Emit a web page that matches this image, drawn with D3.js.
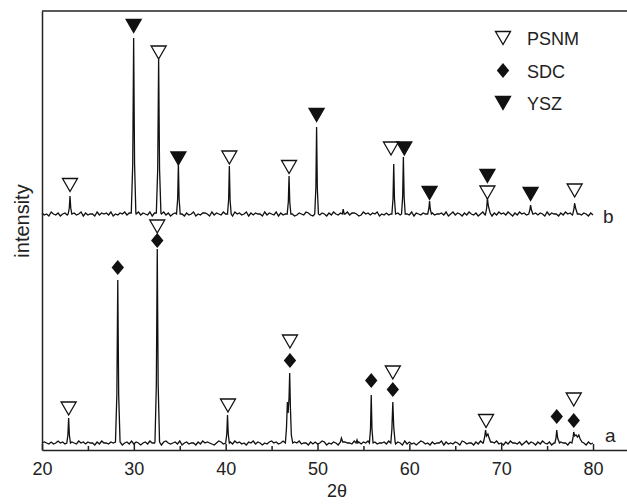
<!DOCTYPE html>
<html>
<head>
<meta charset="utf-8">
<script src="https://cdn.jsdelivr.net/npm/d3@7"></script>
<style>
  body { margin: 0; background: #fff; }
  svg text { font-family: "Liberation Sans", Arial, sans-serif; fill: #222; }
</style>
</head>
<body>
<svg id="xrd" width="627" height="504"></svg>
<script>
// 2theta axis ticks
var majorTicks = [20, 30, 40, 50, 60, 70, 80];
var minorTicks = [25, 35, 45, 55, 65, 75];

// baseline noise, one digit per 0.25 deg step from 20 to 80 (a.u.)
var noiseA = "2321312423120321423132203142213241302314" +
             "1320231422130342123140231220314232102431" +
             "2031423120324132021342312403213241220313" +
             "1243021320413221403132420312231402132041" +
             "3120243120312240312132043122031420313241" +
             "2031422130241320314213024132203142132031" + "2";
var noiseB = "3120421302314231240312204132314021324132" +
             "0241321403122413023142031240213320413214" +
             "2130423124031322041321403123420132143102" +
             "4132031421302413320142313240213120431322" +
             "1403213240312231402413203142130241320314" +
             "2314203142310423132041322031423140213203" + "1";

// peak profiles [2theta, intensity]
var peaksA = [
  [[22.7,2],[22.82,10],[22.9,27],[22.98,10],[23.1,2]],
  [[28.0,3],[28.15,50],[28.25,165],[28.35,50],[28.5,3]],
  [[32.3,3],[32.45,60],[32.55,196],[32.65,60],[32.8,3]],
  [[40.0,2],[40.12,11],[40.2,30],[40.28,11],[40.4,2]],
  [[46.5,2],[46.62,17],[46.72,43],[46.8,32],[46.9,47],[46.97,72],[47.05,37],[47.15,10],[47.3,2]],
  [[52.5,3],[52.6,7],[52.75,3]],
  [[54.2,2],[54.3,5],[54.4,2]],
  [[55.65,2],[55.77,16],[55.85,50],[55.93,16],[56.05,2]],
  [[57.98,2],[58.1,16],[58.2,43],[58.3,18],[58.45,3]],
  [[68.05,2],[68.2,8],[68.3,15],[68.4,9],[68.55,11],[68.65,8],[68.85,3]],
  [[75.85,2],[75.97,7],[76.05,15],[76.15,7],[76.35,2]],
  [[77.7,2],[77.82,7],[77.9,13],[78.0,9],[78.15,10],[78.3,8],[78.45,10],[78.6,6],[78.8,3]]
];
var peaksB = [
  [[22.85,2],[22.97,8],[23.05,20],[23.13,8],[23.25,2]],
  [[29.72,3],[29.88,52],[29.98,178],[30.08,52],[30.22,3]],
  [[32.45,3],[32.6,47],[32.7,157],[32.8,47],[32.95,3]],
  [[34.65,2],[34.77,17],[34.85,52],[34.93,17],[35.05,2]],
  [[40.2,2],[40.32,16],[40.4,50],[40.48,16],[40.6,2]],
  [[46.7,2],[46.82,14],[46.9,40],[46.98,14],[47.1,2]],
  [[49.7,2],[49.82,28],[49.9,89],[49.98,28],[50.1,2]],
  [[52.7,2],[52.8,7],[52.9,2]],
  [[58.1,2],[58.22,17],[58.3,52],[58.38,17],[58.5,2]],
  [[59.15,2],[59.27,19],[59.35,59],[59.43,19],[59.55,2]],
  [[62.0,2],[62.12,7],[62.2,15],[62.28,7],[62.4,2]],
  [[68.3,2],[68.42,8],[68.5,18],[68.6,10],[68.8,3]],
  [[73.0,2],[73.12,6],[73.2,11],[73.3,6],[73.45,2]],
  [[77.8,2],[77.92,7],[78.0,13],[78.1,8],[78.3,2]]
];

// vertical offsets of the two patterns (a.u.)
var offsetA = 5, offsetB = 234;

// phase markers: [phase, 2theta, level above baseline]
var markersA = [
  ["PSNM", 22.9, 34.5], ["SDC", 28.25, 175.5], ["PSNM", 32.55, 216.5], ["SDC", 32.55, 202.5],
  ["PSNM", 40.25, 37.5], ["PSNM", 47.0, 101.5], ["SDC", 47.0, 82.5], ["SDC", 55.85, 62.5],
  ["PSNM", 58.2, 70.5], ["SDC", 58.2, 53.5], ["PSNM", 68.35, 22], ["SDC", 76.05, 26.5],
  ["PSNM", 77.9, 43.5], ["SDC", 77.9, 22.5]
];
var markersB = [
  ["PSNM", 23.05, 29], ["YSZ", 29.98, 188], ["PSNM", 32.7, 161.5], ["YSZ", 34.85, 55.5],
  ["PSNM", 40.4, 56.5], ["PSNM", 46.9, 47], ["YSZ", 49.9, 99], ["PSNM", 58.0, 65.5],
  ["YSZ", 59.45, 65.5], ["YSZ", 62.2, 21], ["YSZ", 68.5, 38], ["PSNM", 68.5, 21.5],
  ["YSZ", 73.2, 20], ["PSNM", 78.0, 23.5]
];
var legendItems = ["PSNM", "SDC", "YSZ"];

var svg = d3.select("#xrd");
var margin = {left: 42, top: 11, right: 0, bottom: 54};
var width = 627, height = 504;

var x = d3.scaleLinear().domain([20, 83.7]).range([margin.left, width - margin.right]);
var y = d3.scaleLinear().domain([0, 439]).range([height - margin.bottom, margin.top]);

function buildTrace(noise, peaks) {
  var pts = [];
  for (var i = 0; i < noise.length; i++) {
    var t = 20 + i * 0.25;
    var inPeak = peaks.some(function(p) { return t >= p[0][0] && t <= p[p.length - 1][0]; });
    if (!inPeak) pts.push([t, +noise[i]]);
  }
  peaks.forEach(function(p) { p.forEach(function(d) { pts.push(d); }); });
  pts.sort(function(a, b) { return a[0] - b[0]; });
  return pts;
}

var traceA = buildTrace(noiseA, peaksA);
var traceB = buildTrace(noiseB, peaksB);

function lineFor(off) {
  return d3.line().x(function(d) { return x(d[0]); }).y(function(d) { return y(d[1] + off); });
}

svg.append("path").datum(traceA).attr("d", lineFor(offsetA))
  .attr("fill", "none").attr("stroke", "#111").attr("stroke-width", 1.3);
svg.append("path").datum(traceB).attr("d", lineFor(offsetB))
  .attr("fill", "none").attr("stroke", "#111").attr("stroke-width", 1.3);

// axes
var gx = svg.append("g").attr("transform", "translate(0," + y(0) + ")")
  .call(d3.axisBottom(x).tickValues(majorTicks).tickSize(-6).tickSizeOuter(0).tickPadding(12));
gx.selectAll("text").attr("font-size", "18px").attr("font-family", null);
svg.append("g").attr("transform", "translate(0," + y(0) + ")")
  .call(d3.axisBottom(x).tickValues(minorTicks).tickSize(-4).tickFormat(""))
  .select(".domain").remove();
svg.append("g").attr("transform", "translate(" + x(20) + ",0)")
  .call(d3.axisLeft(y).tickValues([]).tickSizeOuter(0));
svg.append("line").attr("x1", x(20)).attr("x2", width).attr("y1", y(439)).attr("y2", y(439));
svg.selectAll(".domain, .tick line, svg > line").attr("stroke", "#222").attr("stroke-width", 1.5);

svg.append("text").attr("x", 337).attr("y", 497).attr("text-anchor", "middle")
  .attr("font-size", "18px").text("2θ");
svg.append("text").attr("transform", "translate(29,221) rotate(-90)").attr("text-anchor", "middle")
  .attr("font-size", "20px").text("intensity");

svg.append("text").attr("x", 603).attr("y", 223).attr("font-size", "19px").text("b");
svg.append("text").attr("x", 605).attr("y", 442).attr("font-size", "19px").text("a");

// marker symbols
function drawMarker(g, phase) {
  if (phase === "SDC") {
    g.append("path").attr("d", "M0,-7.5L6.2,0L0,7.5L-6.2,0Z").attr("fill", "#111");
  } else {
    g.append("path").attr("d", "M-7.5,-6.5L7.5,-6.5L0,6.5Z")
      .attr("fill", phase === "YSZ" ? "#111" : "#fff")
      .attr("stroke", "#111").attr("stroke-width", 1.3);
  }
}

function placeMarkers(list, off) {
  list.forEach(function(m) {
    var g = svg.append("g").attr("transform", "translate(" + x(m[1]) + "," + y(off + 2 + m[2]) + ")");
    drawMarker(g, m[0]);
  });
}
placeMarkers(markersA, offsetA);
placeMarkers(markersB, offsetB);

// legend
legendItems.forEach(function(name, i) {
  var g = svg.append("g").attr("transform", "translate(503," + (38 + i * 32.5) + ")");
  drawMarker(g, name);
  g.append("text").attr("x", 24).attr("y", 7).attr("font-size", "18px").text(name);
});
</script>
</body>
</html>
